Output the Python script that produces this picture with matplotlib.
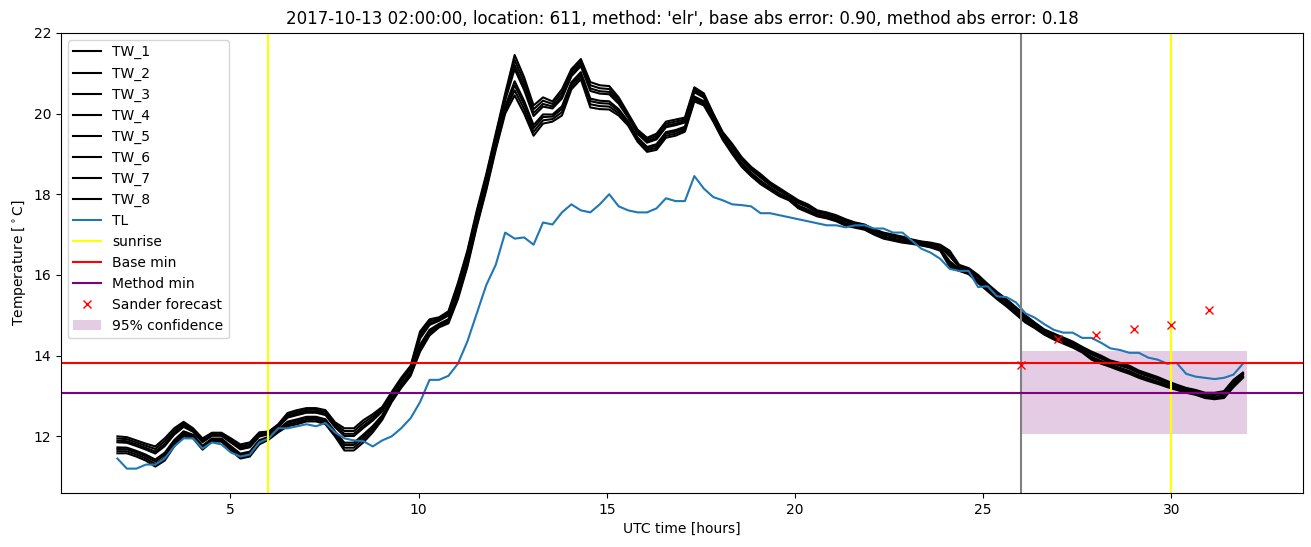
import numpy as np
import matplotlib
matplotlib.use('Agg')
import matplotlib.pyplot as plt

# time axis, hours since midnight UTC (2017-10-13)
hours = np.linspace(2, 31.9, 120)

# air temperature TL
tl = [11.45, 11.2, 11.2, 11.3, 11.3, 11.45, 11.75, 11.95, 11.95, 11.7,
      11.85, 11.8, 11.6, 11.5, 11.55, 11.85, 11.95, 12.2, 12.2, 12.25,
      12.3, 12.25, 12.33, 12.1, 11.95, 11.9, 11.88, 11.75, 11.9, 12.0,
      12.2, 12.45, 12.85, 13.4, 13.4, 13.5, 13.8, 14.35, 15.05, 15.75,
      16.25, 17.05, 16.9, 16.93, 16.75, 17.3, 17.25, 17.55, 17.75, 17.6,
      17.55, 17.75, 18.0, 17.7, 17.6, 17.55, 17.55, 17.65, 17.9, 17.83,
      17.83, 18.45, 18.14, 17.93, 17.85, 17.75, 17.73, 17.7, 17.53, 17.53,
      17.48, 17.43, 17.38, 17.33, 17.28, 17.23, 17.23, 17.18, 17.23, 17.23,
      17.15, 17.15, 17.05, 17.05, 16.85, 16.65, 16.55, 16.4, 16.15, 16.1,
      16.1, 15.7, 15.72, 15.47, 15.45, 15.32, 15.05, 14.94, 14.78, 14.64,
      14.57, 14.57, 14.44, 14.44, 14.32, 14.18, 14.14, 14.07, 14.07, 13.95,
      13.9, 13.8, 13.82, 13.55, 13.48, 13.45, 13.42, 13.45, 13.53, 13.8]

# upper and lower edge of the TW bundle
tw_top = [12.0, 11.98, 11.9, 11.82, 11.75, 11.95, 12.2, 12.36, 12.2, 11.95,
          12.09, 12.09, 11.95, 11.8, 11.85, 12.1, 12.12, 12.3, 12.58, 12.65,
          12.7, 12.7, 12.65, 12.35, 12.2, 12.2, 12.4, 12.55, 12.73, 13.1,
          13.45, 13.75, 14.6, 14.9, 14.95, 15.1, 15.8, 16.6, 17.6, 18.5,
          19.5, 20.5, 21.45, 20.9, 20.2, 20.4, 20.3, 20.6, 21.1, 21.35,
          20.78, 20.7, 20.68, 20.4, 20.0, 19.6, 19.4, 19.5, 19.8, 19.85,
          19.9, 20.65, 20.5, 20.0, 19.54, 19.25, 18.92, 18.68, 18.5, 18.3,
          18.15, 18.0, 17.85, 17.75, 17.6, 17.55, 17.48, 17.38, 17.3, 17.25,
          17.13, 17.05, 17.0, 16.95, 16.88, 16.83, 16.8, 16.75, 16.6, 16.25,
          16.17, 16.0, 15.78, 15.58, 15.4, 15.2, 15.0, 14.82, 14.65, 14.55,
          14.45, 14.35, 14.22, 14.1, 14.0, 13.88, 13.82, 13.75, 13.63, 13.55,
          13.47, 13.37, 13.28, 13.2, 13.15, 13.08, 13.08, 13.12, 13.4, 13.58]
tw_bot = [11.58, 11.58, 11.5, 11.4, 11.25, 11.4, 11.75, 12.0, 11.95, 11.67,
          11.87, 11.87, 11.65, 11.45, 11.5, 11.8, 11.92, 12.1, 12.25, 12.3,
          12.37, 12.37, 12.3, 12.0, 11.65, 11.65, 11.85, 12.1, 12.41, 12.85,
          13.2, 13.5, 14.1, 14.5, 14.7, 14.8, 15.4, 16.2, 17.2, 18.1,
          19.1, 20.0, 20.45, 20.0, 19.45, 19.75, 19.8, 19.95, 20.6, 20.85,
          20.15, 20.11, 20.1, 19.95, 19.7, 19.3, 19.05, 19.1, 19.4, 19.45,
          19.55, 20.3, 20.2, 19.8, 19.35, 19.0, 18.68, 18.45, 18.25, 18.1,
          17.95, 17.85, 17.65, 17.55, 17.45, 17.4, 17.33, 17.22, 17.17, 17.12,
          17.0, 16.9, 16.85, 16.8, 16.77, 16.73, 16.68, 16.6, 16.2, 16.1,
          16.02, 15.8, 15.6, 15.4, 15.22, 15.02, 14.82, 14.68, 14.52, 14.4,
          14.3, 14.2, 14.08, 13.9, 13.8, 13.72, 13.63, 13.55, 13.45, 13.37,
          13.3, 13.22, 13.15, 13.08, 13.03, 12.95, 12.92, 12.95, 13.22, 13.45]
# where each TW sensor sits inside the bundle (1 = top, -1 = bottom)
tw_pos = [1.0, 0.75, 0.5, 0.3, -0.3, -0.5, -0.75, -1.0]

sunrise = [6, 30]
forecast_start = 26
base_min = 13.82
method_min = 13.08
sander_hours = [26, 27, 28, 29, 30, 31]
sander_vals = [13.78, 14.42, 14.5, 14.65, 14.75, 15.12]
conf_hours = [26, 32]
conf_low = 12.06
conf_high = 14.11

tw_top = np.array(tw_top)
tw_bot = np.array(tw_bot)
mid = (tw_top + tw_bot) / 2
half = (tw_top - tw_bot) / 2

fig, ax = plt.subplots(figsize=(13.11, 5.47), dpi=100)
plt.subplots_adjust(left=0.0465, right=0.994, top=0.94, bottom=0.099)

for i, p in enumerate(tw_pos):
    ax.plot(hours, mid + p * half, color='k', label='TW_%d' % (i + 1))
ax.plot(hours, tl, color='tab:blue', label='TL')
ax.axvline(forecast_start, color='grey')
for j, s in enumerate(sunrise):
    ax.axvline(s, color='yellow', label='sunrise' if j == 0 else None)
ax.axhline(base_min, color='red', label='Base min')
ax.axhline(method_min, color='purple', label='Method min')
ax.plot(sander_hours, sander_vals, 'x', color='red', label='Sander forecast')
ax.fill_between(conf_hours, conf_low, conf_high, color='purple', alpha=0.2,
                linewidth=0, label='95% confidence')

ax.set_xlim(0.5, 33.5)
ax.set_ylim(10.6, 22.0)
ax.set_xlabel('UTC time [hours]')
ax.set_ylabel(r'Temperature [$^\circ$C]')
ax.set_title("2017-10-13 02:00:00, location: 611, method: 'elr', "
             "base abs error: 0.90, method abs error: 0.18")
ax.legend(loc='upper left')

plt.savefig('out.png', dpi=100)
